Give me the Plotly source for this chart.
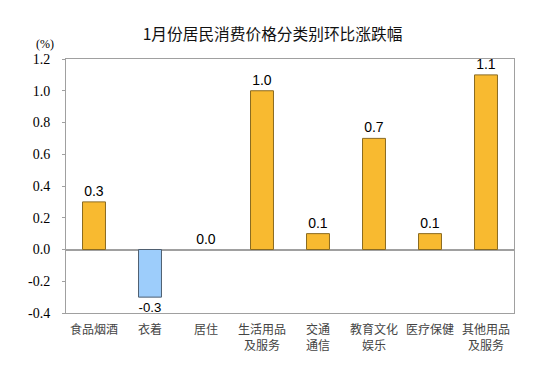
import plotly.graph_objects as go

categories = ["食品烟酒", "衣着", "居住", "生活用品<br>及服务", "交通<br>通信", "教育文化<br>娱乐", "医疗保健", "其他用品<br>及服务"]
values = [0.3, -0.3, 0.0, 1.0, 0.1, 0.7, 0.1, 1.1]
tick_vals = [-0.4, -0.2, 0.0, 0.2, 0.4, 0.6, 0.8, 1.0, 1.2]
tick_text = ["-0.4", "-0.2", "0.0", "0.2", "0.4", "0.6", "0.8", "1.0", "1.2"]
title_text = "1月份居民消费价格分类别环比涨跌幅"
unit_text = "(%)"

colors = ["#9DCDFB" if v < 0 else "#F8BA30" for v in values]
line_colors = ["#4F5F70" if v < 0 else "#8A6A20" for v in values]
line_widths = [0 if v == 0 else 1 for v in values]

fig = go.Figure(go.Bar(
    x=categories, y=values,
    marker=dict(color=colors, line=dict(color=line_colors, width=line_widths)),
    width=0.41,
    text=[f"{v:.1f}" for v in values],
    textposition="outside",
    textfont=dict(family="Liberation Sans", size=14, color="#000"),
    cliponaxis=False,
))

# page body has an 8px margin, so the figure is offset by 8px
W, H = 529, 367
fig.update_layout(
    width=W, height=H,
    margin=dict(l=58, r=23, t=51, b=62),
    paper_bgcolor="white", plot_bgcolor="white",
    showlegend=False,
    title=dict(text=title_text, x=0.5, xanchor="center", y=1 - 27 / H, yanchor="middle",
               font=dict(family="Noto Sans CJK SC", size=15.7, color="#111")),
    xaxis=dict(showline=True, linecolor="#A0A0A0", linewidth=1, mirror=True,
               showgrid=False, ticks="", ticklabelstandoff=6,
               tickfont=dict(family="Noto Sans CJK SC", size=12, color="#444")),
    yaxis=dict(range=[-0.4, 1.2], tickvals=tick_vals, ticktext=tick_text,
               showline=True, linecolor="#A0A0A0", linewidth=1, mirror=True,
               showgrid=False, ticks="outside", ticklen=3, tickcolor="#A0A0A0",
               ticklabelstandoff=9,
               zeroline=True, zerolinecolor="#A0A0A0", zerolinewidth=1.5,
               tickfont=dict(family="Liberation Serif, DejaVu Serif, serif", size=14, color="#000")),
    annotations=[dict(text=unit_text, xref="paper", yref="paper",
                      x=(45 - 66) / 448, y=(313 - 44) / 254,
                      xanchor="center", yanchor="middle", showarrow=False,
                      font=dict(family="Liberation Serif, DejaVu Serif, serif", size=12, color="#000"))],
)

fig.write_html("out.html")
